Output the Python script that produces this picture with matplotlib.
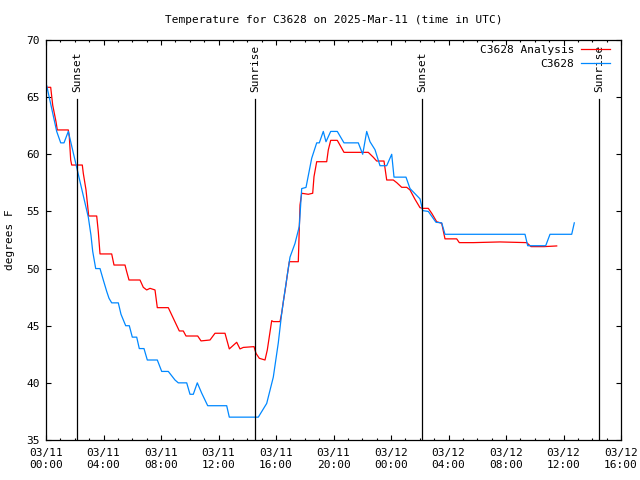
import matplotlib
matplotlib.use("Agg")
import matplotlib.pyplot as plt

plt.rcParams['font.family'] = ['DejaVu Sans Mono']

# ---- data (hours since 2025-03-11 00:00 UTC) ----
obs_hours = [0.05, 0.744, 1.023, 1.252, 1.551, 2.664, 2.943, 3.130, 3.249, 3.457, 3.757, 3.986,
             4.223, 4.383, 4.570, 5.030, 5.217, 5.544, 5.795, 6.003, 6.310, 6.490, 6.817, 7.047,
             7.743, 8.049, 8.508, 8.974, 9.203, 9.788, 10.017, 10.247, 10.525, 10.831, 11.249,
             12.570, 12.751, 14.769, 15.353, 15.812, 16.160, 16.397, 16.626, 16.974, 17.322,
             17.621, 17.788, 18.087, 18.483, 18.831, 19.012, 19.290, 19.478, 19.805, 20.264,
             20.730, 21.725, 22.031, 22.310, 22.539, 22.887, 23.235, 23.701, 24.049, 24.209,
             25.043, 25.322, 26.017, 26.205, 26.595, 27.130, 27.527, 27.756, 33.322, 33.510,
             34.762, 35.061, 36.571, 36.751]
obs_temps = [66, 62, 61, 61, 62, 56, 54.5, 52.9, 51.5, 50, 50, 49,
             48, 47.4, 47, 47, 46, 45, 45, 44, 44, 43, 43, 42,
             42, 41, 41, 40.25, 40, 40, 39, 39, 40, 39.1, 38,
             38, 37, 37, 38.2, 40.5, 43.5, 46.1, 48.1, 51, 52.2,
             53.7, 57, 57.1, 59.65, 61, 61, 62, 61.1, 62, 62,
             61, 61, 60, 62, 61.1, 60.4, 59, 59, 60, 58,
             58, 57, 56.1, 55.07, 55, 54.05, 54, 53, 53, 52,
             52, 53, 53, 54]

ana_hours = [0.049, 0.327, 0.466, 0.696, 0.786, 1.551, 1.621, 1.718, 1.788, 2.525, 2.595, 2.783,
             2.970, 3.527, 3.638, 3.757, 4.570, 4.730, 5.496, 5.614, 5.774, 6.539, 6.769, 7.005,
             7.235, 7.583, 7.743, 8.508, 8.856, 9.273, 9.551, 9.739, 10.553, 10.783, 11.409,
             11.757, 12.452, 12.751, 13.266, 13.496, 13.725, 14.470, 14.609, 14.838, 15.235,
             15.395, 15.701, 15.812, 16.278, 16.397, 16.508, 16.675, 16.786, 16.925, 17.551,
             17.670, 17.788, 18.247, 18.553, 18.643, 18.831, 19.527, 19.638, 19.805, 20.264,
             20.730, 22.421, 22.769, 23.005, 23.513, 23.701, 24.160, 24.397, 24.744, 25.092,
             25.322, 25.670, 26.017, 26.205, 26.595, 26.831, 27.179, 27.527, 27.756, 28.570,
             28.751, 29.725, 31.583, 33.440, 33.739, 34.643, 35.527]
ana_temps = [65.86, 65.86, 64.3, 62.85, 62.13, 62.13, 61.54, 59.5, 59.06, 59.06, 58.33, 56.88,
             54.6, 54.6, 53.23, 51.28, 51.28, 50.31, 50.31, 49.73, 49.0, 49.0, 48.36, 48.13,
             48.27, 48.13, 46.58, 46.58, 45.65, 44.54, 44.54, 44.1, 44.1, 43.67, 43.75,
             44.34, 44.34, 42.97, 43.55, 42.97, 43.1, 43.17, 42.58, 42.15, 42.0,
             42.88, 45.44, 45.36, 45.36, 46.1, 47.1, 48.42, 49.44, 50.6, 50.6,
             55.56, 56.59, 56.5, 56.59, 58.04, 59.35, 59.35, 60.38, 61.22, 61.22,
             60.17, 60.17, 59.74, 59.41, 59.41, 57.75, 57.75, 57.52, 57.11, 57.11,
             56.88, 56.06, 55.33, 55.27, 55.27, 54.84, 54.1, 53.96, 52.6, 52.6,
             52.27, 52.27, 52.33, 52.27, 51.92, 51.92, 51.98]

sun_hours = [2.18, 14.54, 26.18, 38.49]
sun_labels = ["Sunset", "Sunrise", "Sunset", "Sunrise"]

xtick_hours = [0, 4, 8, 12, 16, 20, 24, 28, 32, 36, 40]
xtick_labels = ["03/11\n00:00", "03/11\n04:00", "03/11\n08:00", "03/11\n12:00",
                "03/11\n16:00", "03/11\n20:00", "03/12\n00:00", "03/12\n04:00",
                "03/12\n08:00", "03/12\n12:00", "03/12\n16:00"]
ytick_vals = [35, 40, 45, 50, 55, 60, 65, 70]

# ---- figure ----
fig = plt.figure(figsize=(6.4, 4.8), dpi=100)
ax = fig.add_axes([46/640, 40/480, 575/640, 400/480])

ax.plot(ana_hours, ana_temps, color='#ff0000', lw=0.9, label='C3628 Analysis')
ax.plot(obs_hours, obs_temps, color='#0088ff', lw=0.9, label='C3628')

for h, lab in zip(sun_hours, sun_labels):
    ax.plot([h, h], [35, 64.85], color='black', lw=0.9)
    ax.text(h, 65.45, lab, rotation=90, ha='center', va='bottom', fontsize=8)

ax.set_xlim(0, 40)
ax.set_ylim(35, 70)
ax.set_xticks(xtick_hours)
ax.set_xticklabels(xtick_labels, fontsize=8, linespacing=1.25)
ax.set_xticks(range(0, 41), minor=True)
ax.set_yticks(ytick_vals)
ax.set_yticklabels([str(v) for v in ytick_vals], fontsize=8)

ax.tick_params(axis='both', which='major', direction='in', length=3.3, width=0.8,
               top=True, right=True)
ax.tick_params(axis='x', which='major', pad=6)
ax.tick_params(axis='y', which='major', pad=4.3)
ax.tick_params(axis='x', which='minor', direction='in', length=1.7, width=0.8,
               top=True, bottom=True)
for s in ax.spines.values():
    s.set_linewidth(0.9)

ax.set_title('Temperature for C3628 on 2025-Mar-11 (time in UTC)', fontsize=8, pad=12)
fig.text(10/640, 0.5, 'degrees F', rotation=90, ha='center', va='center', fontsize=8)

ax.legend(loc='upper right', bbox_to_anchor=(0.985, 0.993), frameon=False,
          markerfirst=False, fontsize=8, handlelength=2.6, handletextpad=0.63,
          labelspacing=0.35, borderpad=0.2, borderaxespad=0)

fig.savefig('out.png', dpi=100)
